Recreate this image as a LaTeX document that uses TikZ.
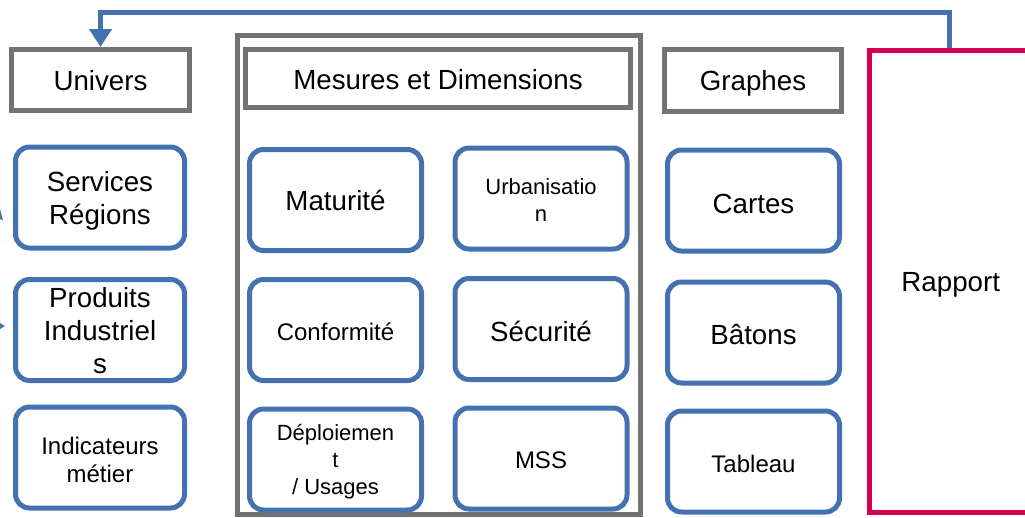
\documentclass[tikz,border=0pt]{standalone}
\usepackage{fontspec}
\setmainfont{Liberation Sans}
\usetikzlibrary{arrows.meta}
\definecolor{bblue}{RGB}{68,114,176}
\definecolor{ggray}{RGB}{115,115,115}
\definecolor{rred}{RGB}{214,0,82}
\tikzset{
  rbox/.style={draw=bblue, line width=5pt, rounded corners=14pt, minimum width=172pt, minimum height=101pt, inner sep=0pt, fill=white},
  hbox/.style={draw=ggray, line width=5pt, inner sep=0pt},
  lbl/.style={inner sep=0pt, align=center},
  bigtxt/.style={lbl, font=\fontsize{27.7}{33}\selectfont},
  medtxt/.style={lbl, font=\fontsize{24}{28}\selectfont},
  smalltxt/.style={lbl, font=\fontsize{22}{27}\selectfont},
  conn/.style={draw=bblue, line width=5pt},
  tip/.style={-{Triangle[width=22pt,length=18pt]}}
}
\begin{document}
\begin{tikzpicture}[x=1pt,y=-1pt]
\useasboundingbox (0,0) rectangle (1025,517);
\clip (0,0) rectangle (1025,517);
% container
\node[hbox, minimum width=403pt, minimum height=479pt] (cont) at (439,275) {};
% headers
\node[hbox, minimum width=178pt, minimum height=61pt] (univ) at (100.5,80) {};
\node[bigtxt] (univT) at ([yshift=-1pt]univ.center) {Univers};
\node[hbox, minimum width=385pt, minimum height=58pt] (mes) at (438,78.5) {};
\node[bigtxt] (mesT) at ([yshift=-1.5pt]mes.center) {Mesures et Dimensions};
\node[hbox, minimum width=177pt, minimum height=62pt] (graph) at (753,80.5) {};
\node[bigtxt] (graphT) at ([yshift=-3pt]graph.center) {Graphes};
% left column
\node[rbox, minimum width=169pt] (serv) at (100,197.5) {};
\node[bigtxt] (servT) at ([yshift=-3pt]serv.center) {Services\\Régions};
\node[rbox, minimum width=169pt] (prod) at (100,330) {};
\node[bigtxt] (prodT) at ([yshift=-0.5pt]prod.center) {Produits\\Industriel\\s};
\node[rbox, minimum width=169pt] (ind) at (100,457.5) {};
\node[medtxt] (indT) at ([yshift=-2pt]ind.center) {Indicateurs\\métier};
% middle
\node[rbox] (mat) at (335.5,200) {};
\node[bigtxt] (matT) at (mat.center) {Maturité};
\node[rbox] (urb) at (541,198.5) {};
\node[smalltxt] (urbT) at ([yshift=-2pt]urb.center) {Urbanisatio\\n};
\node[rbox] (conf) at (335.5,330) {};
\node[medtxt] (confT) at ([yshift=-2pt]conf.center) {Conformité};
\node[rbox] (secu) at (541,329) {};
\node[bigtxt] (secuT) at ([yshift=-2pt]secu.center) {Sécurité};
\node[rbox] (depl) at (335.5,459.5) {};
\node[smalltxt] (deplT) at ([yshift=-2pt]depl.center) {Déploiemen\\t\\/ Usages};
\node[rbox] (mss) at (541,458.5) {};
\node[medtxt] (mssT) at ([yshift=-2pt]mss.center) {MSS};
% right
\node[rbox] (cart) at (753.5,200.5) {};
\node[bigtxt] (cartT) at ([yshift=-3pt]cart.center) {Cartes};
\node[rbox] (bat) at (753.5,332.5) {};
\node[bigtxt] (batT) at ([yshift=-2pt]bat.center) {Bâtons};
\node[rbox] (tab) at (753.5,461.5) {};
\node[medtxt] (tabT) at ([yshift=-2pt]tab.center) {Tableau};
% rapport
\node[draw=rred, line width=5pt, inner sep=0pt, minimum width=162.5pt, minimum height=462pt] (rap) at (950.75,281.5) {};
\node[bigtxt] (rapT) at ([yshift=-3pt]rap.center) {Rapport};
% top connector
\coordinate (topy) at (0,12.5);
\draw[conn, tip] ([xshift=-1.5pt]rap.north) -- ([xshift=-1.5pt]rap.north |- topy) -| (univ.north);
% partial arrows entering from the left edge
\coordinate (inA) at (-30,190);
\coordinate (inB) at (-30,326);
\draw[conn, tip] (inA) -- (3,220);
\draw[conn, tip] (inB) -- (5,326);
\end{tikzpicture}
\end{document}
